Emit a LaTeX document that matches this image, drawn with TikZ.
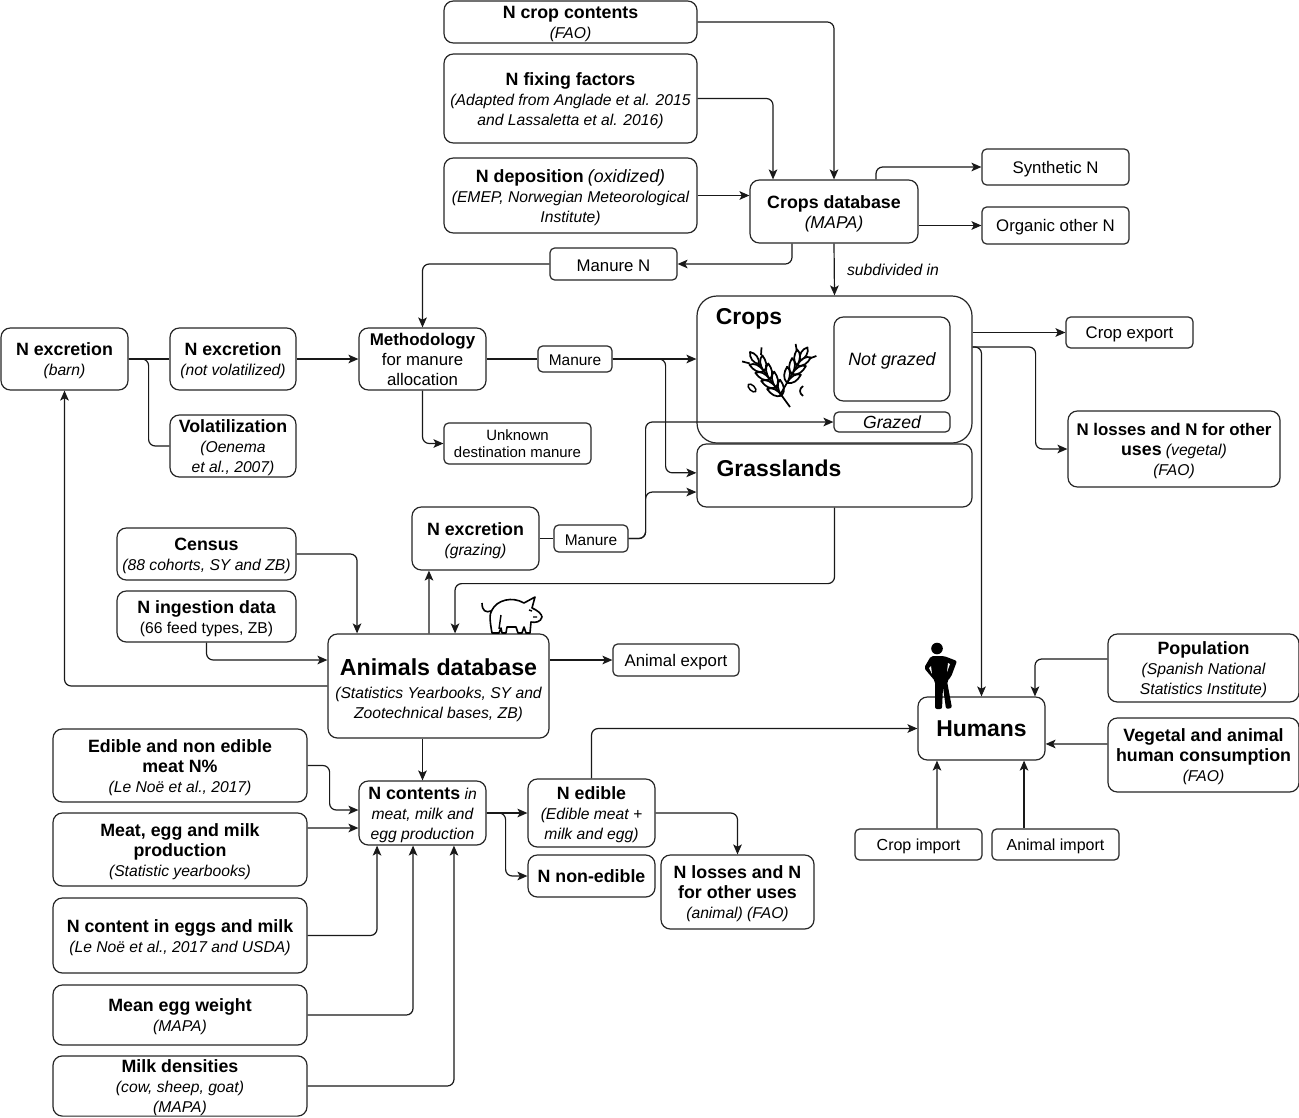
\documentclass[tikz,border=0pt]{standalone}
\usepackage{fontspec}
\setmainfont{Liberation Sans}
\usetikzlibrary{arrows.meta}
\newcommand{\hc}[1]{{\bfseries\fontsize{13.35}{15}\selectfont #1}}
\newcommand{\hd}[1]{\rule{0pt}{12.7pt}\hc{#1}}
\newcommand{\nt}[1]{{\itshape\fontsize{11.75}{15}\selectfont #1}}
\newcommand{\rg}[1]{\rule{0pt}{12pt}{\fontsize{12.6}{15}\selectfont #1}}
\newcommand{\sm}[1]{\rule{0pt}{10.5pt}{\fontsize{11.6}{13}\selectfont #1}}
\tikzset{
    nbox/.style 2 args={draw=black!85, fill=white, rounded corners=7pt, line width=0.9pt, align=center, inner sep=0pt, font=\fontsize{11.5}{15}\selectfont, minimum width=#1*0.75pt, minimum height=#2*0.75pt},
    sbox/.style 2 args={nbox={#1}{#2}, rounded corners=3.5pt},
    bigbox/.style 2 args={nbox={#1}{#2}, rounded corners=15pt},
    title/.style={font=\bfseries\fontsize{17.2}{20}\selectfont, inner sep=0pt},
    link/.style={draw=black!90, line width=0.9pt, ->, rounded corners=5pt},
    >={Stealth[length=7.5pt,width=6.5pt,inset=1.8pt]}
}
\begin{document}
\begin{tikzpicture}[x=0.75pt, y=-0.75pt]
    \useasboundingbox (0,0) rectangle (1299,1117);
    % data sources and databases
    \begin{scope}
        \node[nbox={253}{42}] (ncrop) at (570.5,22) {\hd{N crop contents}\\ \nt{(FAO)}};
        \node[nbox={253}{89}] (nfix) at (570.5,98.5) {\hd{N fixing factors}\\ \nt{(Adapted from Anglade et al. 2015}\\ \nt{and Lassaletta et al. 2016)}};
        \node[nbox={253}{75}] (ndep) at (570.5,195.5) {\hd{N deposition} {\itshape\fontsize{13.35}{15}\selectfont (oxidized)}\\ \nt{(EMEP, Norwegian Meteorological}\\ \nt{Institute)}};
        \node[nbox={168}{63}] (cropsdb) at (834,211.5) {\hd{Crops database}\\ {\itshape\fontsize{12.8}{15}\selectfont (MAPA)}};
        \node[sbox={147}{36}] (synth) at (1055.5,167) {\rg{Synthetic N}};
        \node[sbox={147}{37}] (orgN) at (1055.5,225.5) {\rg{Organic other N}};
        \node[sbox={127}{32}] (manureN) at (613.5,264) {\rg{Manure N}};
        \node[sbox={127}{31}] (cropexp) at (1129.5,332.5) {\rg{Crop export}};
        \node[nbox={212}{76}] (nloss) at (1174,449) {\rule{0pt}{12.7pt}{\bfseries\fontsize{12.65}{15}\selectfont N losses and N for other}\\ \hc{uses} \nt{(vegetal)}\\ \nt{(FAO)}};
        \node[nbox={127}{62}] (nexcbarn) at (64.5,359) {\hd{N excretion}\\ \nt{(barn)}};
        \node[nbox={126}{62}] (nexcnv) at (233,359) {\hd{N excretion}\\ \nt{(not volatilized)}};
        \node[nbox={126}{62}] (volat) at (233,446) {\hd{Volatilization}\\ \nt{(Oenema}\\ \nt{et al., 2007)}};
        \node[nbox={127}{62}] (method) at (422.5,359) {{\bfseries\fontsize{12.7}{15}\selectfont Methodology}\\ {\fontsize{12.6}{15}\selectfont for manure}\\ {\fontsize{12.6}{15}\selectfont allocation}};
        \node[sbox={74}{26}] (manureA) at (575,359) {\sm{Manure}};
        \node[sbox={147}{41}, font=\fontsize{11.2}{12.8}\selectfont] (unknown) at (517.5,443.5) {Unknown\\ destination manure};
        \node[nbox={179}{52}] (census) at (206.5,554) {\hd{Census}\\ \nt{(88 cohorts, SY and ZB)}};
        \node[nbox={179}{51}] (ningest) at (206.5,616.5) {\hd{N ingestion data}\\ {\fontsize{11.75}{15}\selectfont (66 feed types, ZB)}};
        \node[nbox={127}{63}] (nexcgraz) at (475.5,538.5) {\hd{N excretion}\\ \nt{(grazing)}};
        \node[sbox={74}{27}] (manureB) at (591,538.5) {\sm{Manure}};
        \node[nbox={221}{104}] (animaldb) at (438.5,686) {\rule{0pt}{19pt}{\bfseries\fontsize{17.4}{22}\selectfont Animals database}\\[2pt] \nt{(Statistics Yearbooks, SY and}\\ \nt{Zootechnical bases, ZB)}};
        \node[sbox={126}{32}] (animalexp) at (676,660) {\rg{Animal export}};
        \node[nbox={254}{73}] (edible) at (180,765.5) {\hd{Edible and non edible}\\ \hc{meat N\%}\\ \nt{(Le Noë et al., 2017)}};
        \node[nbox={254}{73}] (meatprod) at (180,849.5) {\hd{Meat, egg and milk}\\ \hc{production}\\ \nt{(Statistic yearbooks)}};
        \node[nbox={254}{75}] (ncontegg) at (180,935.5) {\hd{N content in eggs and milk}\\ \nt{(Le Noë et al., 2017 and USDA)}};
        \node[nbox={254}{60}] (meanegg) at (180,1015) {\hd{Mean egg weight}\\ \nt{(MAPA)}};
        \node[nbox={254}{60}] (milk) at (180,1086) {\hd{Milk densities}\\ \nt{(cow, sheep, goat)}\\ \nt{(MAPA)}};
        \node[nbox={127}{64}] (ncontents) at (422.5,813) {\hd{N contents} \nt{in}\\ \nt{meat, milk and}\\ \nt{egg production}};
        \node[nbox={127}{68}] (nedible) at (591.5,813) {\hd{N edible}\\ \nt{(Edible meat +}\\ \nt{milk and egg)}};
        \node[nbox={127}{42}] (nonedible) at (591.5,876) {\hc{N non-edible}};
        \node[nbox={153}{74}] (nlossanim) at (737.5,892) {\hd{N losses and N}\\ \hc{for other uses}\\ \nt{(animal)} \nt{(FAO)}};
        \node[nbox={127}{63}] (humans) at (981.5,728.5) {{\bfseries\fontsize{17.2}{20}\selectfont Humans}};
        \node[sbox={127}{31}] (cropimp) at (918.5,844.5) {\rule{0pt}{12pt}{\fontsize{12}{14}\selectfont Crop import}};
        \node[sbox={127}{31}] (animimp) at (1055.5,844.5) {\rule{0pt}{12pt}{\fontsize{12}{14}\selectfont Animal import}};
        \node[nbox={191}{68}] (popul) at (1203.5,668) {\hd{Population}\\ \nt{(Spanish National}\\ \nt{Statistics Institute)}};
        \node[nbox={191}{74}] (veg) at (1203.5,755) {\hd{Vegetal and animal}\\ \hc{human consumption}\\ \nt{(FAO)}};
    \end{scope}
    % land uses
    \begin{scope}
        \node[bigbox={275}{147}] (crops) at (834.5,369.5) {};
        \node[nbox={275}{63}] (grass) at (834.5,475.5) {};
        \node[nbox={116}{84}] (notgrazed) at (892,359) {\rule{0pt}{12.7pt}{\itshape\fontsize{13.4}{15}\selectfont Not grazed}};
        \node[sbox={116}{20}] (grazed) at (892,422) {{\itshape\fontsize{13.2}{15}\selectfont Grazed}};
        \node[title] (cropstitle) at (749,319) {Crops};
        \node[title] (grasstitle) at (779,468) {Grasslands};
        \node[inner sep=0pt] (subdiv) at (893,270) {{\itshape\fontsize{11.8}{14}\selectfont subdivided in}};
    \end{scope}
    % straight links
    \begin{scope}
        \tikzstyle{every edge}=[link]
        \path
        (ndep.east) edge[] (ndep.east -| cropsdb.west)
        (orgN.west -| cropsdb.east) edge[] (orgN.west)
        (cropsdb.south) edge[] (crops.north)
        (nexcbarn.east) edge[-] (nexcnv.west)
        (nexcnv.east) edge[] (method.west)
        (method.east) edge[-] (manureA.west)
        (manureA.east) edge[] (manureA.east -| crops.west)
        (cropexp.west -| crops.east) edge[] (cropexp.west)
        (nexcgraz.east) edge[-] (manureB.west)
        ([xshift=-7.1pt]animaldb.north) edge[] ([xshift=-34.9pt]nexcgraz.south)
        (animalexp.west -| animaldb.east) edge[] (animalexp.west)
        (ncontents.north |- animaldb.south) edge[] (ncontents.north)
        ([yshift=16.1pt]meatprod.east) edge[] ([yshift=-11.25pt]ncontents.west)
        (ncontents.east) edge[] (nedible.west)
        ([yshift=8.25pt]veg.west) edge[] ([yshift=-11.6pt]humans.east)
        ([xshift=13.9pt]cropimp.north) edge[] ([xshift=-33.4pt]humans.south)
        ([xshift=-23.6pt]animimp.north) edge[] ([xshift=31.9pt]humans.south);
    \end{scope}
    % bent links
    \begin{scope}
        \draw[link] (ncrop.east) -| (cropsdb.north);
        \draw[link] (nfix.east) -| ([xshift=-45.75pt]cropsdb.north);
        \draw[link] ([xshift=31.5pt]cropsdb.north) |- (synth.west);
        \draw[link] ([xshift=-31.5pt]cropsdb.south) |- (manureN.east);
        \draw[link] (manureN.west) -| (method.north);
        \draw[link,-] (nexcbarn.east) -- ++(20,0) |- (volat.west);
        \draw[link] (manureA.east) -- ++(53,0) |- ([yshift=2pt]grass.west);
        \draw[link] (method.south) |- (unknown.west);
        \draw[link] ([yshift=16.9pt]crops.east) -- ++(63,0) |- (nloss.west);
        \draw[link] ([yshift=16.9pt]crops.east) -| (humans.north);
        \draw[link] (manureB.east) -- ++(17,0) |- (grazed.west);
        \draw[link] (manureB.east) -- ++(17,0) |- ([yshift=-12.4pt]grass.west);
        \draw[link] (grass.south) -- ++(0,76) -| ([xshift=12.4pt]animaldb.north);
        \draw[link] (census.east) -| ([xshift=-61.1pt]animaldb.north);
        \draw[link] (ningest.south) |- ([yshift=19.5pt]animaldb.west);
        \draw[link] (animaldb.west) -| (nexcbarn.south);
        \draw[link] (edible.east) -- ++(22,0) |- ([yshift=2.25pt]ncontents.west);
        \draw[link] (ncontegg.east) -| ([xshift=-34.1pt]ncontents.south);
        \draw[link] (meanegg.east) -| ([xshift=-7.1pt]ncontents.south);
        \draw[link] (milk.east) -| ([xshift=23.6pt]ncontents.south);
        \draw[link] (ncontents.east) -- ++(19,0) |- (nonedible.west);
        \draw[link] (nedible.north) |- (humans.west);
        \draw[link] (nedible.east) -| (nlossanim.north);
        \draw[link] ([yshift=6.75pt]popul.west) -| ([xshift=40.1pt]humans.north);
    \end{scope}
    % wheat
    \foreach \rot/\ox/\oy/\len/\tlist in {126/790/407/68/{44,34,24,14}, 60/780/395/55/{34,24,14}} {
        \begin{scope}[shift={(\ox,\oy)}, rotate=\rot, line width=1.3pt, line join=round]
            \draw (0,0) -- (\len-6,0);
            \draw[fill=white] (\len-15,0) .. controls (\len-11,-4) and (\len-4,-4) .. (\len,0) .. controls (\len-4,4) and (\len-11,4) .. (\len-15,0);
            \foreach \t in \tlist {
                \draw[fill=white] (\t,0) .. controls (\t+2,6) and (\t+7,8) .. (\t+14,8) .. controls (\t+13,3) and (\t+8,0) .. (\t,0);
                \draw[fill=white] (\t,0) .. controls (\t+2,-6) and (\t+7,-8) .. (\t+14,-8) .. controls (\t+13,-3) and (\t+8,0) .. (\t,0);
            }
            \draw (\len-9,7) -- (\len-3,12);
            \draw (\len-9,-7) -- (\len-3,-12);
        \end{scope}
    }
    \draw[line width=1.1pt, rotate around={-45:(752,388)}] (752,388) ellipse (5 and 2.6);
    \draw[line width=1.3pt] (803,386) .. controls (799,389) and (799,393) .. (803,396);
    % pig
    \draw[line width=1.2pt, line join=round, fill=white] (492,633) .. controls (490,622) and (489,614) .. (492,610)
        .. controls (497,600) and (512,596) .. (524,603) -- (535,597) -- (532,608)
        .. controls (537,610) and (542,614) .. (542,617) .. controls (541,622) and (535,623) .. (531,622)
        -- (530,633) -- (526,633) -- (524,627) -- (522,633) -- (518,633) -- (516,627) -- (507,627)
        -- (506,633) -- (502,633) -- (501,628) -- (499,633) -- cycle;
    \draw[line width=1.2pt] (491,611) .. controls (486,613) and (482,611) .. (482,603);
    \draw[line width=1.1pt] (529,610) -- (532,611) (533,617) -- (537,617) (501,615) -- (499,629);
    % person
    \fill[black] (937,648.5) circle (5.8);
    \fill[black, rounded corners=1.5pt] (931,656) -- (944,656) -- (957,661) -- (951,677) -- (947,681) -- (952,708) -- (946,709) -- (943,687) -- (942,709) -- (935,709) -- (935,681) -- (924,668) -- cycle;
    \fill[white] (948,663) -- (950,664) -- (947,672) -- cycle;
    \fill[white] (931,666) -- (932,674) -- (929,668) -- cycle;
\end{tikzpicture}
\end{document}
